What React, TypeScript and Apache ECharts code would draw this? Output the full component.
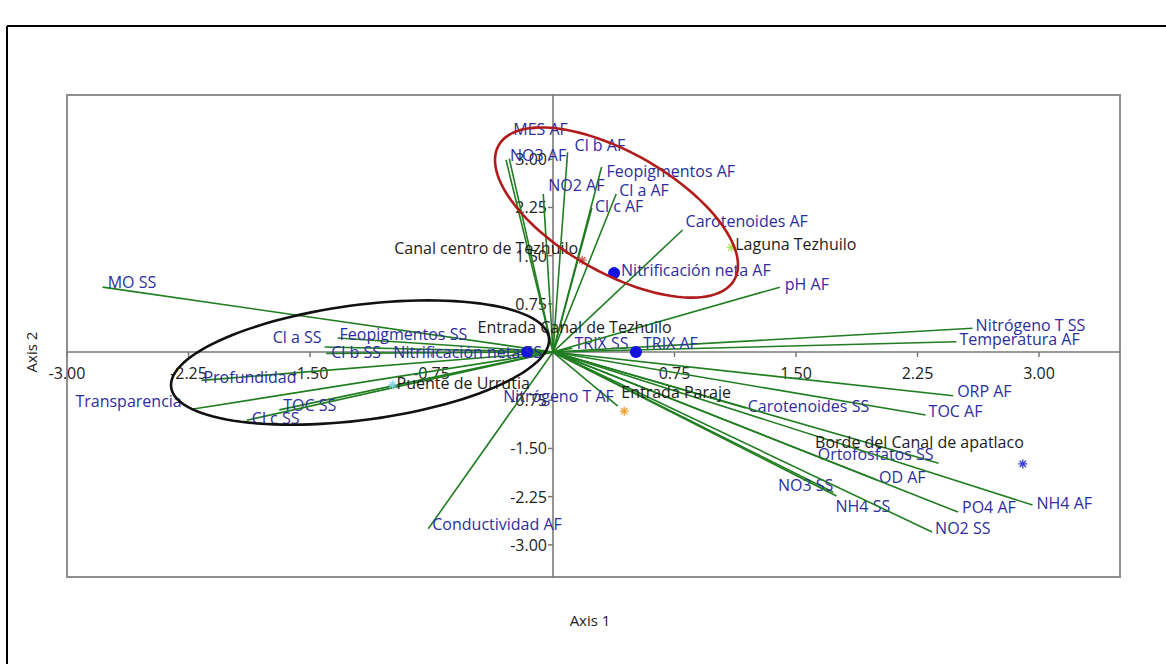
import React, { useEffect, useRef } from 'react';
import * as echarts from 'echarts';

// Axis ranges and tick labels
const X_MIN = -3;
const X_MAX = 3.5;
const Y_MIN = -3.5;
const Y_MAX = 4;
const tickValues = [-3, -2.25, -1.5, -0.75, 0.75, 1.5, 2.25, 3];

// Variable vectors (biplot loadings)
const vectorNames = [
  'MO SS', 'Feopigmentos SS', 'Cl a SS', 'Cl b SS', 'Profundidad', 'Transparencia', 'TOC SS', 'Cl c SS',
  'Conductividad AF', 'Nitrógeno T AF', 'TRIX SS', 'MES AF', 'NO3 AF', 'Cl b AF', 'NO2 AF', 'Feopigmentos AF',
  'Cl a AF', 'Cl c AF', 'Carotenoides AF', 'pH AF', 'Nitrógeno T SS', 'Temperatura AF', 'ORP AF', 'TOC AF',
  'Carotenoides SS', 'Ortofosfatos SS', 'OD AF', 'NO3 SS', 'NH4 SS', 'PO4 AF', 'NO2 SS', 'NH4 AF',
];
const vectorX = [
  -2.78, -1.33, -1.41, -1.40, -2.17, -2.23, -1.69, -1.89,
  -0.77, 0.40, 0.12, -0.27, -0.29, 0.09, -0.06, 0.30,
  0.39, 0.24, 0.80, 1.40, 2.59, 2.49, 2.47, 2.30,
  1.19, 2.38, 2.00, 1.73, 1.75, 2.50, 2.34, 2.96,
];
const vectorY = [
  1.01, 0.22, 0.08, -0.02, -0.44, -0.89, -0.90, -1.06,
  -2.75, -0.84, 0.06, 3.01, 2.99, 3.11, 2.46, 2.88,
  2.46, 2.24, 1.90, 1.01, 0.37, 0.16, -0.68, -0.98,
  -0.87, -1.73, -1.99, -2.18, -2.24, -2.49, -2.80, -2.38,
];

// Variables drawn as dots
const dotNames = ['Nitrificación neta AF', 'Nitrificación neta SS', 'TRIX AF'];
const dotX = [0.377, -0.16, 0.512];
const dotY = [1.229, 0.0, 0.0];

// Sites (samples)
const sampleNames = [
  'Canal centro de Tezhuilo', 'Laguna Tezhuilo', 'Entrada Canal de Tezhuilo',
  'Puente de Urrutia', 'Entrada Paraje', 'Borde del Canal de apatlaco',
];
const sampleX = [0.18, 1.10, -0.49, -0.99, 0.44, 2.90];
const sampleY = [1.43, 1.63, 0.34, -0.51, -0.92, -1.74];
const sampleColors = ['#c8564f', '#aee05a', '', '#80d4e6', '#f0a030', '#3535d8'];

// Group ellipses: center and two conjugate half-axes (data units)
const ellipseCenters = [[0.392, 2.171], [-1.191, -0.163]];
const ellipseAxisU = [[0.75, -0.817], [1.167, 0.35]];
const ellipseAxisV = [[0, 1.042], [0, -0.902]];
const ellipseColors = ['#b01c1c', '#111111'];

// Label placement: [dx px, dy px, align]
type Place = [number, number, 'left' | 'right'];
const labelPlacement: Record<string, Place> = {
  'MO SS': [5, -5, 'left'],
  'Feopigmentos SS': [2, -4, 'left'],
  'Cl a SS': [-3, -10, 'right'],
  'Cl b SS': [5, -1, 'left'],
  'Profundidad': [2, -3, 'left'],
  'Transparencia': [-10, -8, 'right'],
  'TOC SS': [4, -5, 'left'],
  'Cl c SS': [5, -2, 'left'],
  'Conductividad AF': [4, -5, 'left'],
  'Nitrógeno T AF': [-4, -10, 'right'],
  'TRIX SS': [2, -5, 'left'],
  'MES AF': [4, -30, 'left'],
  'NO3 AF': [4, -5, 'left'],
  'Cl b AF': [7, -7, 'left'],
  'NO2 AF': [5, -9, 'left'],
  'Feopigmentos AF': [5, 4, 'left'],
  'Cl a AF': [3, -4, 'left'],
  'Cl c AF': [3, -2, 'left'],
  'Carotenoides AF': [3, -9, 'left'],
  'pH AF': [5, -3, 'left'],
  'Nitrógeno T SS': [3, -3, 'left'],
  'Temperatura AF': [3, -3, 'left'],
  'ORP AF': [4, -5, 'left'],
  'TOC AF': [3, -4, 'left'],
  'Carotenoides SS': [2, -2, 'left'],
  'Ortofosfatos SS': [-5, -9, 'right'],
  'OD AF': [2, -3, 'left'],
  'NO3 SS': [0, -7, 'right'],
  'NH4 SS': [-1, 10, 'left'],
  'PO4 AF': [4, -5, 'left'],
  'NO2 SS': [3, -4, 'left'],
  'NH4 AF': [4, -2, 'left'],
  'Nitrificación neta AF': [7, -3, 'left'],
  'Nitrificación neta SS': [15, 0, 'right'],
  'TRIX AF': [7, -9, 'left'],
  'Canal centro de Tezhuilo': [-4, -12, 'right'],
  'Laguna Tezhuilo': [4, -3, 'left'],
  'Entrada Canal de Tezhuilo': [4, -3, 'left'],
  'Puente de Urrutia': [4, -2, 'left'],
  'Entrada Paraje': [-3, -19, 'left'],
  'Borde del Canal de apatlaco': [1, -22, 'right'],
};

const FONT_FAMILY = '"Open Sans", "Noto Sans", sans-serif';
const FONT = `16px ${FONT_FAMILY}`;
const GREEN = '#217d21';
const BLUE = '#2d2d9f';
const BLACK = '#1c1c1c';
const AXIS_GRAY = '#7a7a7a';

function place(name: string): Place {
  return labelPlacement[name] || [3, -4, 'left'];
}

function labelText(x: number, y: number, name: string, color: string) {
  const [dx, dy, align] = place(name);
  return {
    type: 'text',
    x: x + dx,
    y: y + dy,
    style: { text: name, fill: color, font: FONT, align, verticalAlign: 'middle' },
  };
}

const fmt = (v: number) => v.toFixed(2);

export default function App() {
  const ref = useRef<HTMLDivElement>(null);

  useEffect(() => {
    const chart = echarts.init(ref.current!, null, { renderer: 'svg' });

    const axisCommon = {
      type: 'value',
      axisLine: { onZero: true, lineStyle: { color: AXIS_GRAY, width: 1.6 } },
      axisTick: { show: false },
      axisLabel: { show: false },
      splitLine: { show: false },
    };

    const option: any = {
      animation: false,
      backgroundColor: '#ffffff',
      grid: {
        left: 67, top: 95, width: 1053, height: 482,
        show: true, borderColor: '#8f8f8f', borderWidth: 2,
      },
      xAxis: { ...axisCommon, min: X_MIN, max: X_MAX },
      yAxis: { ...axisCommon, min: Y_MIN, max: Y_MAX },
      graphic: [
        { type: 'line', shape: { x1: 7, y1: 26, x2: 1166, y2: 26 }, style: { stroke: '#000', lineWidth: 2 } },
        { type: 'line', shape: { x1: 7, y1: 26, x2: 7, y2: 664 }, style: { stroke: '#000', lineWidth: 2 } },
        {
          type: 'text', x: 590, y: 620,
          style: { text: 'Axis 1', fill: '#222', font: `15px ${FONT_FAMILY}`, align: 'center', verticalAlign: 'middle' },
        },
        {
          type: 'text', x: 31, y: 352, rotation: Math.PI / 2,
          style: { text: 'Axis 2', fill: '#222', font: `15px ${FONT_FAMILY}`, align: 'center', verticalAlign: 'middle' },
        },
      ],
      series: [
        {
          // ticks and tick labels on the horizontal zero axis
          type: 'custom',
          name: 'xticks',
          z: 2,
          silent: true,
          data: tickValues.map((v) => [v, 0]),
          encode: { x: 0, y: 1 },
          renderItem: (params: any, api: any) => {
            const v = api.value(0);
            const p = api.coord([v, 0]);
            return {
              type: 'group',
              children: [
                { type: 'line', shape: { x1: p[0], y1: p[1], x2: p[0], y2: p[1] + 5 }, style: { stroke: AXIS_GRAY, lineWidth: 1.5 } },
                {
                  type: 'text', x: p[0], y: p[1] + 21,
                  style: { text: fmt(v), fill: '#222', font: FONT, align: 'center', verticalAlign: 'middle' },
                },
              ],
            };
          },
        },
        {
          // ticks and tick labels on the vertical zero axis
          type: 'custom',
          name: 'yticks',
          z: 2,
          silent: true,
          data: tickValues.map((v) => [0, v]),
          encode: { x: 0, y: 1 },
          renderItem: (params: any, api: any) => {
            const v = api.value(1);
            const p = api.coord([0, v]);
            return {
              type: 'group',
              children: [
                { type: 'line', shape: { x1: p[0] - 5, y1: p[1], x2: p[0], y2: p[1] }, style: { stroke: AXIS_GRAY, lineWidth: 1.5 } },
                {
                  type: 'text', x: p[0] - 6, y: p[1],
                  style: { text: fmt(v), fill: '#222', font: FONT, align: 'right', verticalAlign: 'middle' },
                },
              ],
            };
          },
        },
        {
          type: 'custom',
          name: 'vectors',
          z: 3,
          data: vectorX.map((x, i) => [x, vectorY[i]]),
          encode: { x: 0, y: 1 },
          renderItem: (params: any, api: any) => {
            const i = params.dataIndex;
            const o = api.coord([0, 0]);
            const p = api.coord([api.value(0), api.value(1)]);
            return {
              type: 'group',
              children: [
                { type: 'line', shape: { x1: o[0], y1: o[1], x2: p[0], y2: p[1] }, style: { stroke: GREEN, lineWidth: 1.6 } },
                labelText(p[0], p[1], vectorNames[i], BLUE),
              ],
            };
          },
        },
        {
          type: 'custom',
          name: 'dots',
          z: 4,
          data: dotX.map((x, i) => [x, dotY[i]]),
          encode: { x: 0, y: 1 },
          renderItem: (params: any, api: any) => {
            const i = params.dataIndex;
            const p = api.coord([api.value(0), api.value(1)]);
            return {
              type: 'group',
              children: [
                { type: 'circle', shape: { cx: p[0], cy: p[1], r: 6 }, style: { fill: '#1414e0' } },
                labelText(p[0], p[1], dotNames[i], BLUE),
              ],
            };
          },
        },
        {
          type: 'custom',
          name: 'samples',
          z: 4,
          data: sampleX.map((x, i) => [x, sampleY[i]]),
          encode: { x: 0, y: 1 },
          renderItem: (params: any, api: any) => {
            const i = params.dataIndex;
            const p = api.coord([api.value(0), api.value(1)]);
            const color = sampleColors[i];
            const children: any[] = [];
            if (color) {
              const r = 4.5;
              for (let k = 0; k < 4; k++) {
                const a = (k * Math.PI) / 4;
                const cx = Math.cos(a) * r;
                const cy = Math.sin(a) * r;
                children.push({
                  type: 'line',
                  shape: { x1: p[0] - cx, y1: p[1] - cy, x2: p[0] + cx, y2: p[1] + cy },
                  style: { stroke: color, lineWidth: 1.3 },
                });
              }
            }
            children.push(labelText(p[0], p[1], sampleNames[i], BLACK));
            return { type: 'group', children };
          },
        },
        {
          type: 'custom',
          name: 'ellipses',
          z: 5,
          data: ellipseCenters.map((c, i) => [c[0], c[1], ellipseAxisU[i][0], ellipseAxisU[i][1], ellipseAxisV[i][0], ellipseAxisV[i][1]]),
          encode: { x: 0, y: 1 },
          renderItem: (params: any, api: any) => {
            const i = params.dataIndex;
            const cx = api.value(0), cy = api.value(1);
            const ux = api.value(2), uy = api.value(3);
            const vx = api.value(4), vy = api.value(5);
            const pts: number[][] = [];
            const N = 120;
            for (let k = 0; k <= N; k++) {
              const t = (k / N) * Math.PI * 2;
              pts.push(api.coord([cx + ux * Math.cos(t) + vx * Math.sin(t), cy + uy * Math.cos(t) + vy * Math.sin(t)]));
            }
            return {
              type: 'polyline',
              shape: { points: pts },
              style: { stroke: ellipseColors[i], lineWidth: 2.6, fill: null },
            };
          },
        },
      ],
    };

    chart.setOption(option);
    return () => chart.dispose();
  }, []);

  return (
    <div
      ref={ref}
      style={{ position: 'fixed', left: 0, top: 0, width: 1166, height: 664, background: '#fff' }}
    />
  );
}
